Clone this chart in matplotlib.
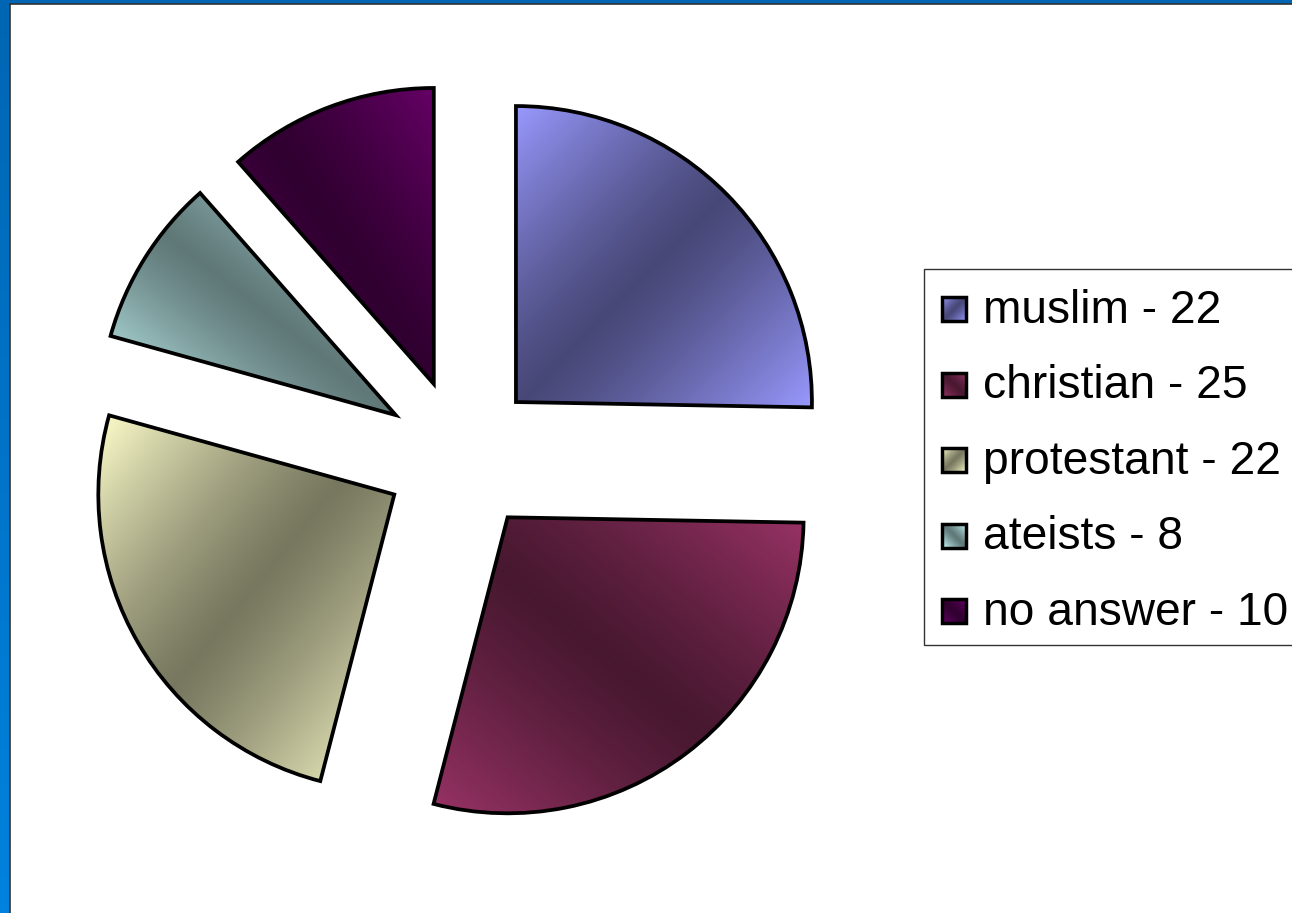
import numpy as np
import matplotlib
matplotlib.use("Agg")
import matplotlib.pyplot as plt
from matplotlib.patches import Rectangle
from matplotlib.colors import to_rgb

# datos del grafico
categories = ["muslim", "christian", "protestant", "ateists", "no answer"]
values = [22, 25, 22, 8, 10]
base_colors = ["#9999FF", "#993366", "#FFFFCC", "#CCFFFF", "#660066"]
# tipo de degradado: "diag" -> claro en TL/BR, "anti" -> claro en BL/TR
grad_kind = ["diag", "anti", "diag", "anti", "anti"]

W, H = 1292, 913
SHADE = 0.47


def gradient_img(kind, light, n=300):
    light = np.array(to_rgb(light))
    dark = light * SHADE
    u = np.linspace(0, 1, n)[None, :]
    v = np.linspace(0, 1, n)[:, None]  # v hacia abajo (origin upper)
    if kind == "diag":
        t = u + v - 1.0
    else:
        t = u - v
    f = np.clip(np.abs(t), 0, 1)[..., None] ** 1.25
    return dark + (light - dark) * f


def fill_gradient(ax, patch, kind, color, zorder=1):
    verts = patch.get_path().vertices
    if patch.get_transform() is not ax.transData:
        verts = patch.get_patch_transform().transform(verts)
    x0, y0 = verts.min(axis=0)
    x1, y1 = verts.max(axis=0)
    im = ax.imshow(gradient_img(kind, color), extent=[x0, x1, y0, y1],
                   origin="upper", interpolation="bilinear", zorder=zorder,
                   aspect="auto")
    im.set_clip_path(patch)


fig = plt.figure(figsize=(W / 100, H / 100), dpi=100)
ax = fig.add_axes([0, 0, 1, 1])

# tarta explotada
wedges, _ = ax.pie(values, radius=296, center=(461, H - 456), explode=[77] * len(values),
                   startangle=90, counterclock=False, colors=base_colors,
                   wedgeprops=dict(edgecolor="black", linewidth=2.7), frame=True)
ax.set_xlim(0, W)
ax.set_ylim(0, H)
ax.set_aspect("auto")
ax.axis("off")
for w, kind, col in zip(wedges, grad_kind, base_colors):
    w.set_facecolor("none")
    w.set_zorder(3)
    fill_gradient(ax, w, kind, col, zorder=2)

# leyenda
ax.add_patch(Rectangle((924, H - 645), 400, 376, facecolor="white",
                       edgecolor="#333333", linewidth=1.0, zorder=4))
row0, step = 309, 75.5
for i, (cat, val) in enumerate(zip(categories, values)):
    yc = H - (row0 + i * step)
    sq = Rectangle((942, yc - 12), 24, 24, facecolor="none", edgecolor="black",
                   linewidth=2.5, zorder=6)
    ax.add_patch(sq)
    fill_gradient(ax, sq, grad_kind[i], base_colors[i], zorder=5)
    ax.text(983, yc - 13.5, f"{cat} - {val}", fontsize=33.2, family="Liberation Sans",
            ha="left", va="baseline", zorder=7)

# marco azul (izquierda y arriba)
blue = np.linspace(0, 1, 100)[:, None, None]
top_c = np.array(to_rgb("#0066B3"))
bot_c = np.array(to_rgb("#0082DE"))
strip = top_c + (bot_c - top_c) * blue
ax.imshow(np.repeat(strip, 2, axis=1), extent=[0, 9.5, 0, H], origin="upper",
          aspect="auto", zorder=8)
ax.add_patch(Rectangle((0, H - 3.5), W, 3.5, facecolor="#0066B3", edgecolor="none", zorder=8))
ax.plot([10, 10], [0, H - 4], color="#333333", linewidth=1.2, zorder=9)
ax.plot([10, W], [H - 4, H - 4], color="#333333", linewidth=1.2, zorder=9)

ax.set_xlim(0, W)
ax.set_ylim(0, H)
fig.savefig("out.png", dpi=100)
